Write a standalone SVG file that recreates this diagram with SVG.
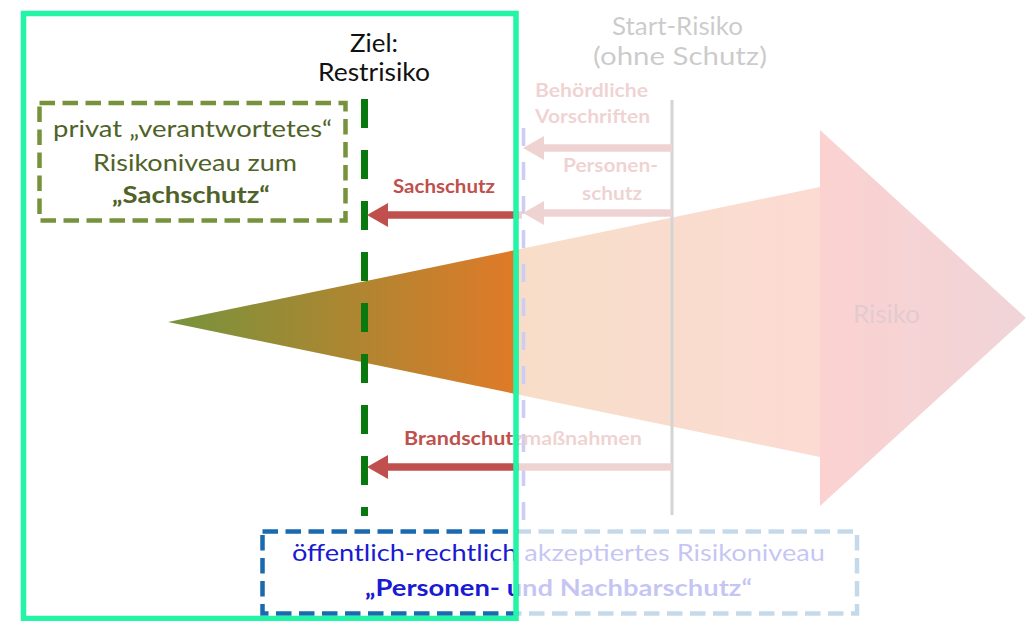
<svg xmlns="http://www.w3.org/2000/svg" width="1026" height="621" viewBox="0 0 1026 621">
<defs>
<style>
text { font-family: Lato, "Liberation Sans", sans-serif; }
.t-black { fill:#111111; font-size:25px; }
.t-gray { fill:#333333; font-size:25px; }
.t-olive { fill:#4F6228; font-size:23px; }
.t-red { fill:#C0504D; font-size:18px; font-weight:bold; }
.t-blue { fill:#1A1AD2; font-size:23px; }
.arrow { stroke:#C0504D; stroke-width:7.5; fill:none; marker-end:url(#head); }
.dashbox { fill:none; stroke-width:4.5; stroke-dasharray:15.5 7.5; }
</style>
<linearGradient id="shaftGrad" gradientUnits="userSpaceOnUse" x1="168" y1="0" x2="820" y2="0">
<stop offset="0" stop-color="#76933C"/>
<stop offset="0.535" stop-color="#E07A28"/>
<stop offset="1" stop-color="#F0714F"/>
</linearGradient>
<linearGradient id="headGrad" gradientUnits="userSpaceOnUse" x1="820" y1="0" x2="1026" y2="0">
<stop offset="0" stop-color="#EE4B45"/>
<stop offset="1" stop-color="#C25566"/>
</linearGradient>
<marker id="head" markerUnits="userSpaceOnUse" markerWidth="22" markerHeight="24" refX="0" refY="12" orient="auto" viewBox="0 0 22 24" overflow="visible">
<path d="M0,0 L21,12 L0,24 Z" fill="#C0504D"/>
</marker>
</defs>

<g id="risk-arrow">
<polygon points="168,322 820,187 820,457" fill="url(#shaftGrad)"/>
<polygon points="820,130 1026,318 820,506" fill="url(#headGrad)"/>
<text x="853" y="323" textLength="67" lengthAdjust="spacingAndGlyphs" style="fill:#8A3040;font-size:25px">Risiko</text>
</g>

<g id="connectors">
<line id="start-line" x1="672" y1="100" x2="672" y2="515" stroke="#555555" stroke-width="3"/>
<line id="public-level-line" x1="523.5" y1="128" x2="523.5" y2="530" stroke="#3737D7" stroke-width="3.5" stroke-dasharray="18 16"/>
<line id="target-line" x1="364.5" y1="99" x2="364.5" y2="516" stroke="#08780F" stroke-width="7" stroke-dasharray="29 22"/>
<line class="arrow" x1="672" y1="148" x2="544" y2="148"/>
<line class="arrow" x1="672" y1="213" x2="544" y2="213"/>
<line class="arrow" x1="522" y1="215" x2="388" y2="215"/>
<line class="arrow" x1="672" y1="467" x2="388" y2="467"/>
</g>

<g id="ziel-label">
<text class="t-black" x="350" y="52" textLength="48" lengthAdjust="spacingAndGlyphs">Ziel:</text>
<text class="t-black" x="318" y="81" textLength="112" lengthAdjust="spacingAndGlyphs">Restrisiko</text>
</g>

<g id="start-label">
<text class="t-gray" x="612" y="35" textLength="131" lengthAdjust="spacingAndGlyphs">Start-Risiko</text>
<text class="t-gray" x="593" y="65" textLength="174" lengthAdjust="spacingAndGlyphs">(ohne Schutz)</text>
</g>

<g id="private-box">
<rect class="dashbox" x="39.5" y="103" width="306" height="117.5" stroke="#76923C"/>
<text class="t-olive" x="53" y="137" textLength="279" lengthAdjust="spacingAndGlyphs">privat „verantwortetes“</text>
<text class="t-olive" x="93" y="171" textLength="204" lengthAdjust="spacingAndGlyphs">Risikoniveau zum</text>
<text class="t-olive" x="112" y="203" textLength="158" lengthAdjust="spacingAndGlyphs" font-weight="bold">„Sachschutz“</text>
</g>

<g id="measure-labels">
<text class="t-red" x="393" y="193" textLength="102" lengthAdjust="spacingAndGlyphs">Sachschutz</text>
<text class="t-red" x="535" y="97" textLength="113" lengthAdjust="spacingAndGlyphs">Behördliche</text>
<text class="t-red" x="535" y="123" textLength="115" lengthAdjust="spacingAndGlyphs">Vorschriften</text>
<text class="t-red" x="563" y="172" textLength="95" lengthAdjust="spacingAndGlyphs">Personen-</text>
<text class="t-red" x="582" y="200" textLength="60" lengthAdjust="spacingAndGlyphs">schutz</text>
<text class="t-red" x="404" y="445" textLength="238" lengthAdjust="spacingAndGlyphs">Brandschutzmaßnahmen</text>
</g>

<g id="public-box">
<rect class="dashbox" x="262.5" y="531.5" width="594.5" height="82" stroke="#1A6AB0"/>
<text class="t-blue" x="292" y="561" textLength="533" lengthAdjust="spacingAndGlyphs">öffentlich-rechtlich akzeptiertes Risikoniveau</text>
<text class="t-blue" x="365" y="596" textLength="387" lengthAdjust="spacingAndGlyphs" font-weight="bold">„Personen- und Nachbarschutz“</text>
</g>

<rect id="fade-overlay" x="518.5" y="0" width="507.5" height="621" fill="#FFFFFF" fill-opacity="0.75"/>

<g id="focus-frame">
<rect x="23.5" y="13.5" width="492.5" height="605" fill="none" stroke="#22F5A5" stroke-width="5.5"/>
</g>
</svg>
